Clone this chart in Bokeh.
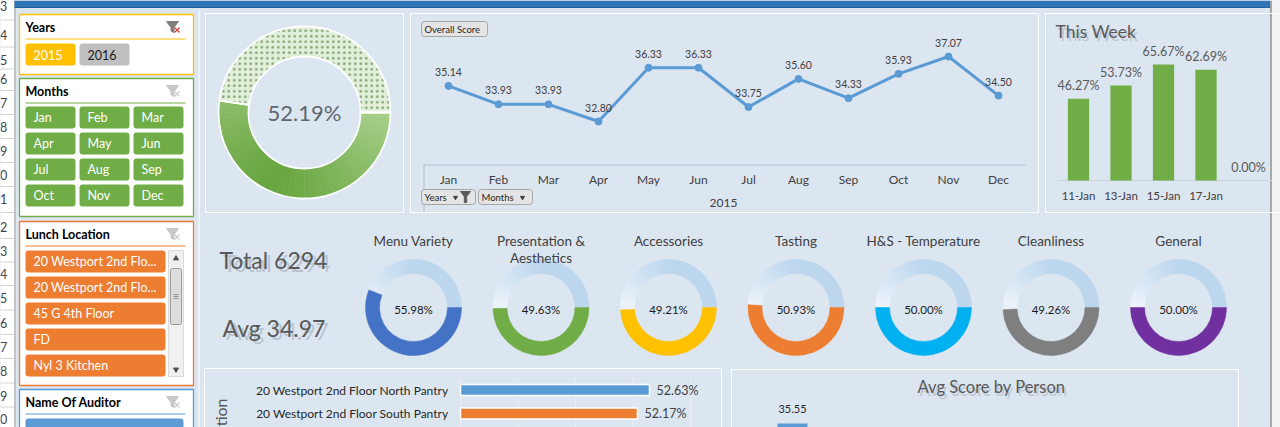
import math
from bokeh.plotting import figure
from bokeh.models import Range1d
from bokeh.core.properties import value
from bokeh.embed import file_html
from bokeh.resources import INLINE

# ---------------- data ----------------
years = ["2015", "2016"]
months = ["Jan", "Feb", "Mar", "Apr", "May", "Jun", "Jul", "Aug", "Sep", "Oct", "Nov", "Dec"]
location_slicer = ["20 Westport 2nd Flo...", "20 Westport 2nd Flo...", "45 G 4th Floor", "FD", "Nyl 3 Kitchen"]
overall_pct = 52.19
monthly_score = [35.14, 33.93, 33.93, 32.80, 36.33, 36.33, 33.75, 35.60, 34.33, 35.93, 37.07, 34.50]
week_days = ["11-Jan", "13-Jan", "15-Jan", "17-Jan", ""]
week_pct = [46.27, 53.73, 65.67, 62.69, 0.00]
kpi_names = ["Menu Variety", "Presentation &|Aesthetics", "Accessories", "Tasting",
             "H&S - Temperature", "Cleanliness", "General"]
kpi_pct = [55.98, 49.63, 49.21, 50.93, 50.00, 49.26, 50.00]
total_audits = 6294
avg_score = 34.97
loc_names = ["20 Westport 2nd Floor North Pantry", "20 Westport 2nd Floor South Pantry"]
loc_pct = [52.63, 52.17]
loc_axis_ticks = [45.4, 47.6, 49.8, 52.0, 54.2]
person_avg = [35.55]
excel_rows = ["3", "4", "5", "6", "7", "8", "9", "0", "1", "2", "3", "4", "5", "6", "7", "8", "9", "0"]

# ---------------- styling / layout ----------------
W, H = 1280, 427
FONT = value("Lato")
BG = "#dce6f1"
KPI_COLORS = ["#4472c4", "#70ad47", "#ffc000", "#ed7d31", "#00b0f0", "#7f7f7f", "#7030a0"]


def S(sy):
    return H - sy


def lin_range(v0, p0, v1, p1, total):
    k = (p1 - p0) / (v1 - v0)
    start = v0 - p0 / k
    return Range1d(start=start, end=start + total / k)


def hexlerp(c1, c2, t):
    a = [int(c1[i:i + 2], 16) for i in (1, 3, 5)]
    b = [int(c2[i:i + 2], 16) for i in (1, 3, 5)]
    return "#%02x%02x%02x" % tuple(int(round(a[i] + (b[i] - a[i]) * t)) for i in range(3))


p = figure(width=W, height=H, x_range=Range1d(0, W), y_range=Range1d(0, H),
           output_backend="svg", toolbar_location=None,
           x_axis_location=None, y_axis_location=None,
           min_border=0, min_border_left=0, min_border_right=0,
           min_border_top=0, min_border_bottom=0,
           background_fill_color=BG, border_fill_color=BG, outline_line_color=None)
p.grid.visible = False

p.extra_x_ranges = {
    "line": lin_range(0, 448, len(months) - 1, 998, W),
    "week": lin_range(0, 1078, 4, 1248, W),
    "kpi": lin_range(0, 413, 6, 1178, W),
    "loc": lin_range(loc_axis_ticks[0], 460, 52.63, 649, W),
    "person": lin_range(0, 792, 1, 852, W),
}
p.extra_y_ranges = {
    "line": lin_range(32.80, S(121), 37.07, S(56), H),
    "week": lin_range(0, S(180), 65.67, S(64), H),
    "loc": lin_range(0, S(389.5), 1, S(413), H),
    "person": lin_range(0, S(620), 35.55, S(423), H),
}


def T(x, y, s, size, color="#595959", align="left", base="middle", style="normal",
      xr="default", yr="default", angle=0, xo=0, yo=0, alpha=1.0):
    xs = x if isinstance(x, list) else [x]
    n = len(xs)
    ys = y if isinstance(y, list) else [y] * n
    ss = s if isinstance(s, list) else [s] * n
    p.text(x=xs, y=ys, text=ss, text_font=FONT, text_font_size=f"{size}px",
           text_color=color, text_align=align, text_baseline=base, text_font_style=style,
           x_range_name=xr, y_range_name=yr, angle=angle, x_offset=xo, y_offset=yo,
           text_alpha=alpha)


def box(l, r, t, b, fill=None, line=None, lw=1, radius=0, alpha=1.0):
    p.quad(left=[l], right=[r], top=[S(t)], bottom=[S(b)],
           fill_color=fill, fill_alpha=alpha if fill else 0,
           line_color=line, line_width=lw, line_alpha=1 if line else 0,
           border_radius=radius)


def hline(x0, x1, sy, color, lw=1):
    p.line([x0, x1], [S(sy), S(sy)], line_color=color, line_width=lw)


def vline(sx, y0, y1, color, lw=1):
    p.line([sx, sx], [S(y0), S(y1)], line_color=color, line_width=lw)


def funnel(cx, cy, color, xcolor):
    pts = [(-6, -5), (6, -5), (1.5, 1), (1.5, 6), (-1.5, 4.5), (-1.5, 1)]
    p.patch([cx + a for a, b in pts], [S(cy + b) for a, b in pts], fill_color=color, line_color=color)
    p.line([cx + 2, cx + 7], [S(cy + 1), S(cy + 6)], line_color=xcolor, line_width=1.3)
    p.line([cx + 7, cx + 2], [S(cy + 1), S(cy + 6)], line_color=xcolor, line_width=1.3)


# ---------------- excel chrome ----------------
box(0, 14, 0, H, fill="#ffffff")
row_mid = [5, 34, 59, 78, 102, 126, 150, 174, 198, 226, 250, 273, 297, 322, 346, 370, 395, 418]
for i in range(len(row_mid) - 1):
    hline(0, 14, (row_mid[i] + row_mid[i + 1]) / 2, "#d4d4d4")
T([-0.5] * len(excel_rows), [S(m) for m in row_mid], excel_rows, 12.5, color="#444444")
vline(14.5, 0, H, "#9c9c9c")

box(14, 1270, 0, 7, fill="#2e75b6")
hline(14, 1270, 7, "#245f96")
box(1270, 1280, 0, H, fill="#f2f2f2")
vline(1270.5, 0, H, "#8f8f8f", 1.5)
vline(198.5, 10, H, "#ffffff")

# ---------------- slicers ----------------
def slicer(top, bottom, color, title, active):
    box(19, 193, top, bottom, fill="#ffffff", line=color, lw=1.3)
    T(25, S(top + 13), title, 12.5, color="#000000", style="bold")
    hline(25, 185, top + 24.5, color, 1.2)
    if active:
        funnel(172, top + 12, "#7f7f7f", "#e0403a")
    else:
        funnel(172, top + 12, "#c8c8c8", "#d0d0d0")


slicer(14, 74, "#ffc000", "Years", True)
yfills = ["#ffc000", "#bfbfbf"]
ytext = ["#ffffff", "#1a1a1a"]
for i, yv in enumerate(years):
    l = 25 + i * 54
    box(l, l + 50, 43, 65, fill=yfills[i], radius=3)
    T(l + 8, S(54), yv, 12.5, color=ytext[i])

slicer(78, 216, "#70ad47", "Months", False)
for i, m in enumerate(months):
    l = 25 + (i % 3) * 54
    t = 106 + (i // 3) * 26
    box(l, l + 50, t, t + 22, fill="#70ad47", radius=3)
    T(l + 8, S(t + 11), m, 12.5, color="#ffffff")

slicer(221, 385, "#ed7d31", "Lunch Location", False)
for i, loc in enumerate(location_slicer):
    t = 250 + i * 26
    box(25, 165, t, t + 22, fill="#ed7d31", radius=3)
    T(33, S(t + 11), loc, 12.5, color="#ffffff")
box(168, 183, 250, 376, fill="#f0f0f0", line="#dadada")
box(170, 181, 268, 324, fill="#dddddd", line="#9a9a9a", radius=2)
for dy in (-2, 0, 2):
    hline(173, 178, 296 + dy, "#7a7a7a", 0.8)
p.scatter([175.5], [S(258)], marker="triangle", size=5, color="#505050")
p.scatter([175.5], [S(369)], marker="inverted_triangle", size=5, color="#505050")

slicer(389, 460, "#5b9bd5", "Name Of Auditor", False)
box(25, 183, 418, 445, fill="#5b9bd5", radius=3)

# ---------------- panels ----------------
box(205, 403, 13, 212, line="#ffffff")
box(410, 1038, 13, 212, line="#ffffff")
box(1045, 1290, 13, 212, line="#ffffff")
box(204, 721, 368, 460, line="#ffffff")
box(731, 1238, 369, 460, line="#ffffff")

# ---------------- big donut ----------------
frac = overall_pct / 100.0
cx, cy = 304, S(112)
N = 48
a0, a1 = -frac * 2 * math.pi, 0.0
starts, ends, cols = [], [], []
for k in range(N):
    s = a0 + (a1 - a0) * k / N
    e = a0 + (a1 - a0) * (k + 1) / N
    mid = math.degrees((s + e) / 2)
    d = min(1.0, abs(mid + 115) / 115)
    starts.append(s)
    ends.append(e)
    cols.append(hexlerp("#68a63f", "#a6cf89", d ** 1.3))
p.annular_wedge(x=[cx] * N, y=[cy] * N, inner_radius=56, outer_radius=86,
                start_angle=starts, end_angle=ends, fill_color=cols, line_color=cols,
                line_width=0.6, inner_radius_units="screen", outer_radius_units="screen")
p.annular_wedge(x=[cx], y=[cy], inner_radius=56, outer_radius=86,
                start_angle=[0.0], end_angle=[2 * math.pi * (1 - frac)],
                fill_color="#e2efda", hatch_pattern="dot", hatch_color="#86a873",
                hatch_scale=5.5, hatch_weight=0.5, line_color=None,
                inner_radius_units="screen", outer_radius_units="screen")
p.annular_wedge(x=[cx, cx], y=[cy, cy], inner_radius=56, outer_radius=86,
                start_angle=[a0, 0.0], end_angle=[0.0, 2 * math.pi * (1 - frac)],
                fill_color=None, line_color="#ffffff", line_width=1.8,
                inner_radius_units="screen", outer_radius_units="screen")
T(cx, cy, f"{overall_pct:.2f}%", 22, color="#5f6670", align="center")

# ---------------- line chart ----------------
idx = list(range(len(months)))
box(421, 487, 21, 36, fill="#e4e4e4", line="#a6a6a6", radius=3)
T(424, S(28.5), "Overall Score", 9.5, color="#262626")
hline(423, 1025, 164.5, "#b4bcc8")
vline(423.5, 164, 212, "#b4bcc8")
p.line(idx, monthly_score, x_range_name="line", y_range_name="line",
       line_color="#5b9bd5", line_width=3)
p.scatter(idx, monthly_score, x_range_name="line", y_range_name="line",
          size=7, fill_color="#5b9bd5", line_color="#5b9bd5")
T(idx, monthly_score, [f"{v:.2f}" for v in monthly_score], 10.5, color="#404040",
  align="center", xr="line", yr="line", yo=-14)
T(idx, S(179), months, 12, color="#404040", align="center", xr="line")
T((len(months) - 1) / 2, S(202), years[0], 12, color="#404040", align="center", xr="line")
box(421, 475, 189, 204, fill="#e4e4e4", line="#a6a6a6", radius=3)
T(424, S(196.5), "Years", 9.5, color="#262626")
p.scatter([455], [S(197)], marker="inverted_triangle", size=4, color="#404040")
pts = [(-5, -5), (5, -5), (1.2, 0), (1.2, 6), (-1.2, 6), (-1.2, 0)]
p.patch([465 + a for a, b in pts], [S(196 + b) for a, b in pts], fill_color="#595959", line_color="#595959")
box(478, 532, 189, 204, fill="#e4e4e4", line="#a6a6a6", radius=3)
T(481, S(196.5), "Months", 9.5, color="#262626")
p.scatter([522], [S(197)], marker="inverted_triangle", size=4, color="#404040")

# ---------------- this week ----------------
widx = list(range(len(week_pct)))
T(1056, S(32), "This Week", 17.5, color="#9aa5b3", xo=1, yo=2, alpha=0.5)
T(1055, S(31), "This Week", 17.5, color="#595959")
p.line([1057, 1272], [0, 0], y_range_name="week", line_color="#c9d1db", line_width=1)
p.vbar(x=widx, top=week_pct, bottom=0, width=0.5, x_range_name="week", y_range_name="week",
       fill_color="#70ad47", line_color=None)
T(widx, week_pct, [f"{v:.2f}%" for v in week_pct], 12.5, color="#595959", align="center",
  xr="week", yr="week", yo=-13)
T(widx, S(195), week_days, 11.5, color="#404040", align="center", xr="week")

# ---------------- KPI donuts ----------------
T(221, S(260), f"Total {total_audits}", 23, color="#8e99a6", xo=1.5, yo=2, alpha=0.45)
T(219, S(259), f"Total {total_audits}", 23, color="#595959")
T(224, S(328), f"Avg {avg_score:.2f}", 23, color="#8e99a6", xo=1.5, yo=2, alpha=0.45)
T(222, S(327), f"Avg {avg_score:.2f}", 23, color="#595959")

kidx = list(range(len(kpi_pct)))
KY = S(307)
NR = 30
for i, pct in enumerate(kpi_pct):
    f = pct / 100.0
    r0, r1 = 0.0, 2 * math.pi * (1 - f)
    rs, re_, rc = [], [], []
    for k in range(NR):
        s = r0 + (r1 - r0) * k / NR
        e = r0 + (r1 - r0) * (k + 1) / NR
        mid = math.degrees((s + e) / 2)
        t = min(1.0, abs(mid - 175) / 85.0)
        rs.append(s)
        re_.append(e)
        rc.append(hexlerp("#eef4fb", "#bcd6ee", t ** 0.8))
    p.annular_wedge(x=[i] * NR, y=[KY] * NR, inner_radius=34, outer_radius=48,
                    start_angle=rs, end_angle=re_, fill_color=rc, line_color=rc, line_width=0.6,
                    x_range_name="kpi", inner_radius_units="screen", outer_radius_units="screen")
p.annular_wedge(x=kidx, y=[KY] * len(kidx), inner_radius=34, outer_radius=48,
                start_angle=[-v / 100.0 * 2 * math.pi for v in kpi_pct], end_angle=[0.0] * len(kidx),
                fill_color=KPI_COLORS, line_color=KPI_COLORS, line_width=0.5,
                x_range_name="kpi", inner_radius_units="screen", outer_radius_units="screen")
T(kidx, S(309), [f"{v:.2f}%" for v in kpi_pct], 11.5, color="#1a1a1a", align="center", xr="kpi")
for i, name in enumerate(kpi_names):
    for j, part in enumerate(name.split("|")):
        T(i, S(240 + 17 * j), part, 13.5, color="#404040", align="center", xr="kpi")

# ---------------- location bars ----------------
lidx = list(range(len(loc_pct)))
for tv in loc_axis_ticks:
    p.line([tv, tv], [S(378), S(440)], x_range_name="loc", line_color="#e8edf3", line_width=1)
p.hbar(y=lidx, left=loc_axis_ticks[0], right=loc_pct, height=0.47,
       x_range_name="loc", y_range_name="loc",
       fill_color=["#5b9bd5", "#ed7d31"], line_color="#ffffff", line_width=1.5)
T([448] * len(lidx), lidx, loc_names, 12, color="#262626", align="right", yr="loc")
T(loc_pct, lidx, [f"{v:.2f}%" for v in loc_pct], 12.5, color="#404040", xr="loc", yr="loc", xo=7)
T(220, S(398), "Lunch Location", 16, color="#595959", align="right", angle=math.pi / 2)

# ---------------- avg score by person ----------------
T(992, S(387), "Avg Score by Person", 16.5, color="#9aa5b3", align="center", xo=1, yo=2, alpha=0.5)
T(991, S(386), "Avg Score by Person", 16.5, color="#595959", align="center")
pidx = list(range(len(person_avg)))
p.vbar(x=pidx, top=person_avg, bottom=0, width=0.5, x_range_name="person", y_range_name="person",
       fill_color="#5b9bd5", line_color=None)
T(pidx, person_avg, [f"{v:.2f}" for v in person_avg], 11, color="#262626", align="center",
  xr="person", yr="person", yo=-15)

open("out.html", "w").write(file_html(p, INLINE))
